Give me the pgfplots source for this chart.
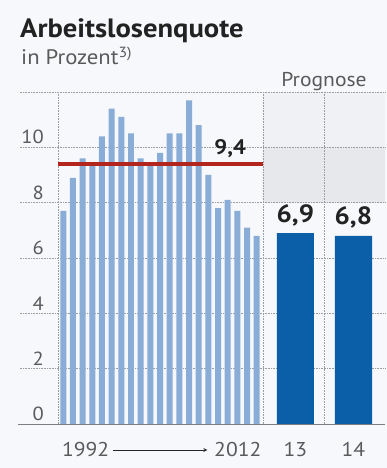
\documentclass[border=0pt]{standalone}
\usepackage{fontspec}
\setmainfont{PT Sans}[FakeStretch=1.08, AutoFakeSlant=0.2]
\usepackage{pgfplots}
\pgfplotsset{compat=1.18}

\definecolor{pagebg}{HTML}{F6F8FB}
\definecolor{histbar}{HTML}{89ADD6}
\definecolor{progbar}{HTML}{0B5EA8}
\definecolor{avgline}{HTML}{B3261E}
\definecolor{gridc}{HTML}{9A9EA3}
\definecolor{bandA}{HTML}{EFF1F4}
\definecolor{bandB}{HTML}{E6E8EC}
\definecolor{txt}{HTML}{222222}
\definecolor{ticktxt}{HTML}{5A5A5A}

\tikzset{gridline/.style={gridc, line width=0.6pt, dash pattern=on 0.8pt off 0.8pt}}

\begin{document}
\begin{tikzpicture}[x=1pt,y=1pt]
  \begin{axis}[
    at={(58pt,44pt)}, anchor=south west,
    scale only axis, width=327pt, height=332pt,
    set layers=standard,
    xmin=-0.55, xmax=33.27, ymin=0, ymax=12,
    clip=false,
    axis line style={draw=none},
    tick style={draw=none},
    ytick={0,2,4,6,8,10},
    yticklabel style={anchor=south east, inner sep=0pt, xshift=-14pt, yshift=3pt,
                      text=ticktxt, font=\fontsize{19}{22}\selectfont},
    xtick={24,30}, xticklabels={13,14},
    xticklabel style={anchor=base, inner sep=0pt, yshift=-33pt,
                      text=ticktxt, font=\fontsize{20}{24}\selectfont},
    /pgf/number format/assume math mode=true,
  ]
    % page background and shaded band above the forecast bars
    \begin{pgfonlayer}{axis background}
      \fill[pagebg] ([xshift=-58pt,yshift=-44pt]rel axis cs:0,0)
        rectangle ([xshift=2pt,yshift=92pt]rel axis cs:1,1);
      \fill[bandA] (axis cs:20.65,10) rectangle (axis cs:33.27,12);
      \fill[bandB] (axis cs:20.65,8) rectangle (axis cs:33.27,10);
    \end{pgfonlayer}

    % grid
    \begin{pgfonlayer}{axis grid}
      \draw[gridline] (axis cs:-4.5,2)  -- (axis cs:33.27,2);
      \draw[gridline] (axis cs:-4.5,4)  -- (axis cs:33.27,4);
      \draw[gridline] (axis cs:-4.5,6)  -- (axis cs:33.27,6);
      \draw[gridline] (axis cs:-4.5,8)  -- (axis cs:33.27,8);
      \draw[gridline] (axis cs:-4.5,10) -- (axis cs:33.27,10);
      \draw[gridline] (axis cs:-4.5,12) -- (axis cs:33.27,12);
      \draw[gridc!80!black, line width=0.8pt] (axis cs:-4.7,0) -- (axis cs:33.27,0);
      \draw[gridline] (axis cs:-0.55,0) -- (axis cs:-0.55,12);
      \draw[gridline] (axis cs:20.65,0) -- (axis cs:20.65,12);
      \draw[gridline] (axis cs:26.96,0) -- (axis cs:26.96,12);
    \end{pgfonlayer}

    % 1992--2012
    \addplot[ybar, bar shift=0pt, bar width=0.62, fill=histbar, draw=none]
      coordinates {
        (0,7.7) (1,8.9) (2,9.6) (3,9.4) (4,10.4) (5,11.4) (6,11.1)
        (7,10.5) (8,9.6) (9,9.4) (10,9.8) (11,10.5) (12,10.5) (13,11.7)
        (14,10.8) (15,9.0) (16,7.8) (17,8.1) (18,7.7) (19,7.1) (20,6.8)
      };

    % forecast 2013, 2014
    \addplot[ybar, bar shift=0pt, bar width=3.85, fill=progbar, draw=none,
      nodes near coords,
      nodes near coords style={text=txt, inner sep=0pt, anchor=south, yshift=7pt,
        font=\bfseries\fontsize{25}{30}\selectfont,
        /pgf/number format/.cd, fixed, fixed zerofill, precision=1, use comma,
        assume math mode=true}]
      coordinates {(24,6.9) (30,6.8)};

    % average line
    \addplot[avgline, line width=3.5pt, no markers]
      coordinates {(-0.55,9.4) (20.65,9.4)}
      node[pos=0.84, anchor=south, inner sep=0pt, yshift=5pt, text=txt,
           font=\bfseries\itshape\fontsize{21}{24}\selectfont] {9,4};

    % year range below the historical bars
    \node[anchor=base west, inner sep=0pt, text=ticktxt,
          font=\fontsize{20}{24}\selectfont] at ([yshift=-33pt]axis cs:-0.15,0) {1992};
    \node[anchor=base east, inner sep=0pt, text=ticktxt,
          font=\fontsize{20}{24}\selectfont] at ([yshift=-33pt]axis cs:20.5,0) {2012};
    \draw[-stealth, black!85, line width=0.8pt]
      ([yshift=-26pt]axis cs:5.15,0) -- ([yshift=-26pt]axis cs:14.9,0);
  \end{axis}

  % headings
  \node[anchor=base west, inner sep=0pt, text=txt,
        font=\bfseries\fontsize{26.5}{30}\selectfont] at (20,430) {Arbeitslosenquote};
  \node[anchor=base west, inner sep=0pt, text=ticktxt,
        font=\fontsize{21}{24}\selectfont] at (21,403) {in Prozent\textsuperscript{3)}};
  \node[anchor=base, inner sep=0pt, text=ticktxt,
        font=\fontsize{20}{24}\selectfont] at (324,381) {Prognose};

  \pgfresetboundingbox
  \path (0,0) rectangle (387,468);
\end{tikzpicture}
\end{document}
